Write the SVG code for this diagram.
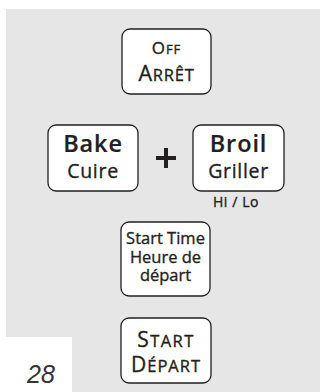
<svg xmlns="http://www.w3.org/2000/svg" width="320" height="392" viewBox="0 0 320 392">
<style>
.key{fill:#ffffff;stroke:#231f20;stroke-width:1.3}
.t{font-family:"Open Sans","Liberation Sans",sans-serif;fill:#231f20;text-anchor:middle;stroke:#231f20;stroke-width:0.35}
.b{font-weight:600;stroke-width:0.2}
</style>
<rect x="0" y="0" width="320" height="392" fill="#ffffff"/>
<rect x="6" y="9" width="314" height="383" fill="#e6e6e6"/>
<rect x="0" y="337" width="72" height="55" fill="#ffffff"/>
<g id="off">
<rect class="key" x="122" y="29" width="89" height="65" rx="8"/>
<text class="t" x="166.5" y="54" font-size="17" letter-spacing="1">O<tspan font-size="13">FF</tspan></text>
<text class="t" x="166.5" y="81" font-size="21.5" letter-spacing="0.8">A<tspan font-size="16.5">RRÊT</tspan></text>
</g>
<g id="bake">
<rect class="key" x="48" y="125" width="90" height="66" rx="8"/>
<text class="t b" x="93" y="152" font-size="23.5" letter-spacing="0.9">Bake</text>
<text class="t" x="93" y="177.5" font-size="19.5" letter-spacing="0.7">Cuire</text>
</g>
<g id="plus">
<rect x="164" y="148" width="4" height="20" fill="#231f20"/>
<rect x="156" y="156" width="20" height="4" fill="#231f20"/>
</g>
<g id="broil">
<rect class="key" x="193" y="125" width="91" height="66" rx="8"/>
<text class="t b" x="238.5" y="152" font-size="23.5" letter-spacing="0.9">Broil</text>
<text class="t" x="238.5" y="177.5" font-size="19.5" letter-spacing="0.7">Griller</text>
<text class="t" x="236" y="207" font-size="14" letter-spacing="0.6" stroke-width="0.2">Hi / Lo</text>
</g>
<g id="starttime">
<rect class="key" x="121" y="222" width="89" height="74" rx="8"/>
<text class="t" x="165.5" y="244" font-size="16.5" letter-spacing="0">Start Time</text>
<text class="t" x="165.5" y="262.5" font-size="16.5" letter-spacing="0">Heure de</text>
<text class="t" x="165.5" y="281" font-size="16.5" letter-spacing="0">départ</text>
</g>
<g id="start">
<rect class="key" x="121" y="318" width="90" height="65" rx="8"/>
<text class="t" x="166" y="347" font-size="21" letter-spacing="1.4">S<tspan font-size="16.5">TART</tspan></text>
<text class="t" x="166" y="372" font-size="21" letter-spacing="1">D<tspan font-size="16.5">ÉPART</tspan></text>
</g>
<text x="27" y="383" font-family="'Liberation Sans',sans-serif" font-style="italic" font-size="25" fill="#333333">28</text>
</svg>
